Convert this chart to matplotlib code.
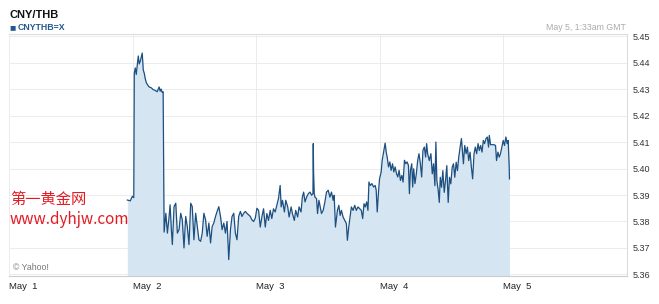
import matplotlib
matplotlib.use("Agg")
import matplotlib.pyplot as plt

# CNY/THB intraday quotes, hours after May 1 00:00 GMT
hours = [
    22.98, 23.56, 23.94, 24.23, 24.33, 24.52, 24.71, 25.10, 25.29, 25.49,
    25.87, 26.07, 26.26, 26.45, 26.65, 26.84, 27.22, 27.61, 28.00, 28.38,
    28.77, 29.15, 29.35, 29.54, 29.73, 29.93, 30.12,
    30.45, 30.76, 31.09, 31.28, 31.53, 31.72, 32.05, 32.38, 32.69, 33.02,
    33.34, 33.65, 33.98, 34.31, 34.62, 34.95, 35.28, 35.58, 35.91, 36.24,
    36.55, 36.88, 37.21, 37.52, 37.84, 38.17, 38.48, 38.81, 39.14, 39.45,
    39.77, 40.10, 40.41, 40.74, 41.07, 41.38, 41.71, 42.03, 42.34, 42.67,
    43.00, 43.31, 43.64, 43.96, 44.27, 44.60, 44.93, 45.24, 45.57, 45.89,
    46.20, 46.53, 46.86, 47.17, 47.50, 47.83, 48.14,
    48.46, 48.79, 49.10, 49.43, 49.76, 50.07, 50.39, 50.72, 51.03, 51.36,
    51.69, 52.00, 52.32, 52.65, 52.85, 53.10, 53.48, 53.74, 54.12, 54.39,
    54.78, 55.03, 55.41, 55.67, 56.05, 56.32, 56.71, 56.96, 57.21, 57.48,
    57.79, 58.12, 58.45, 58.75, 59.02, 59.08, 59.14, 59.27, 59.41, 59.72,
    59.91, 60.18, 60.43, 60.68, 61.01, 61.34, 61.65, 61.98, 62.31, 62.62,
    62.94, 63.14, 63.39, 63.77, 64.04, 64.30, 64.55, 64.87, 65.20, 65.51,
    65.71, 65.97, 66.23, 66.48, 66.81, 67.13, 67.44, 67.77, 68.10, 68.41,
    68.68, 68.93, 69.18, 69.45, 69.70, 69.89, 70.15, 70.47, 70.80, 71.11,
    71.30, 71.50, 71.77, 71.96, 72.27, 72.46, 72.73, 72.93, 73.04, 73.24,
    73.43, 73.70, 73.95, 74.20, 74.47, 74.72, 74.97, 75.24, 75.49, 75.75,
    76.01, 76.27, 76.52, 76.79, 77.04, 77.29, 77.56, 77.75, 77.95, 78.20,
    78.39, 78.58, 78.83, 79.10, 79.36, 79.61, 79.88, 80.13, 80.38, 80.65,
    80.90, 81.09, 81.29,
    81.61, 81.92, 82.19, 82.45, 82.70, 82.89, 83.08, 83.35, 83.55, 83.74,
    83.99, 84.24, 84.51, 84.76, 85.01, 85.28, 85.53, 85.79, 86.06, 86.31,
    86.56, 86.83, 87.08, 87.33, 87.60, 87.85, 88.04, 88.24, 88.49, 88.76,
    89.01, 89.26, 89.53, 89.78, 90.03, 90.30, 90.55, 90.81, 91.08, 91.33,
    91.58, 91.85, 92.10, 92.35, 92.62, 92.87, 93.12, 93.26, 93.51, 94.17,
    94.47, 94.67, 94.94, 95.19, 95.44, 95.71, 95.96, 96.21, 96.48, 96.73,
    96.93, 97.12, 97.18,
]
rate = [
    5.3881, 5.3878, 5.3895, 5.3890, 5.4360, 5.4380, 5.4355, 5.4425, 5.4395, 5.4405,
    5.4436, 5.4372, 5.4360, 5.4340, 5.4325, 5.4318, 5.4308, 5.4305, 5.4298, 5.4295,
    5.4290, 5.4308, 5.4292, 5.4300, 5.4288, 5.4290, 5.3760,
    5.3831, 5.3756, 5.3819, 5.3863, 5.3769, 5.3713, 5.3856, 5.3869, 5.3756, 5.3769,
    5.3831, 5.3806, 5.3700, 5.3819, 5.3781, 5.3713, 5.3869, 5.3856, 5.3731, 5.3831,
    5.3781, 5.3731, 5.3725, 5.3756, 5.3831, 5.3806, 5.3744, 5.3794, 5.3719, 5.3781,
    5.3794, 5.3819, 5.3838, 5.3856, 5.3819, 5.3769, 5.3794, 5.3756, 5.3800, 5.3656,
    5.3769, 5.3819, 5.3831, 5.3756, 5.3731, 5.3819, 5.3838, 5.3819, 5.3831, 5.3838,
    5.3831, 5.3825, 5.3819, 5.3806, 5.3800, 5.3813, 5.3850,
    5.3842, 5.3779, 5.3817, 5.3848, 5.3779, 5.3830, 5.3804, 5.3842, 5.3811, 5.3848,
    5.3836, 5.3861, 5.3886, 5.3936, 5.3855, 5.3880, 5.3836, 5.3880, 5.3855, 5.3817,
    5.3855, 5.3830, 5.3804, 5.3842, 5.3817, 5.3855, 5.3836, 5.3892, 5.3911, 5.3874,
    5.3892, 5.3905, 5.3911, 5.3899, 5.3905, 5.4094, 5.3987, 5.3905, 5.3892, 5.3886,
    5.3830, 5.3880, 5.3855, 5.3830, 5.3842, 5.3874, 5.3911, 5.3918, 5.3892, 5.3911,
    5.3880, 5.3899, 5.3779, 5.3842, 5.3861, 5.3823, 5.3842, 5.3817, 5.3804, 5.3792,
    5.3729, 5.3779, 5.3817, 5.3855, 5.3842, 5.3861, 5.3842, 5.3855, 5.3848, 5.3842,
    5.3811, 5.3867, 5.3855, 5.3874, 5.3842, 5.3949, 5.3936, 5.3943, 5.3930, 5.3936,
    5.3918, 5.3836, 5.3918, 5.3962, 5.3987, 5.4031, 5.4062, 5.4087, 5.4096, 5.4062,
    5.4043, 5.4006, 5.4025, 5.3993, 5.4018, 5.3987, 5.4006, 5.3981, 5.3968, 5.3993,
    5.3955, 5.3974, 5.3949, 5.4031, 5.4018, 5.4025, 5.4012, 5.3905, 5.3993, 5.4018,
    5.3930, 5.3999, 5.3943, 5.3981, 5.4031, 5.4056, 5.4018, 5.3968, 5.4069, 5.4081,
    5.4043, 5.4094, 5.4056,
    5.4030, 5.4056, 5.3980, 5.4018, 5.3935, 5.4100, 5.3954, 5.3916, 5.3872, 5.3967,
    5.3929, 5.3992, 5.3910, 5.3954, 5.4011, 5.3872, 5.3967, 5.3942, 5.4005, 5.4018,
    5.3967, 5.4024, 5.3992, 5.4043, 5.4081, 5.4113, 5.4068, 5.4018, 5.4087, 5.4056,
    5.4081, 5.4030, 5.4062, 5.4005, 5.3961, 5.4056, 5.4081, 5.4056, 5.4094, 5.4068,
    5.4087, 5.4062, 5.4106, 5.4094, 5.4113, 5.4119, 5.4081, 5.4125, 5.4090, 5.4090,
    5.4087, 5.4030, 5.4062, 5.4043, 5.4056, 5.4081, 5.4106, 5.4087, 5.4119, 5.4094,
    5.4106, 5.4011, 5.3961,
]

day_ticks = [0, 24, 48, 72, 96]
day_labels = ["May  1", "May  2", "May  3", "May  4", "May  5"]
rate_ticks = [5.36, 5.37, 5.38, 5.39, 5.40, 5.41, 5.42, 5.43, 5.44, 5.45]

plt.rcParams["font.family"] = ["Liberation Sans", "DejaVu Sans"]

W, H = 659, 304
fig = plt.figure(figsize=(W / 100, H / 100), dpi=100)
ax = fig.add_axes([9 / W, 1 - 275.5 / H, (627 - 9) / W, (275.5 - 34) / H])

ymin, ymax = 5.3596, 5.4508
ax.fill_between(hours, rate, ymin, color="#d5e5f1", lw=0)
ax.plot(hours, rate, color="#1d4f80", lw=0.9)

ax.set_xlim(0, 120)
ax.set_ylim(ymin, ymax)
ax.set_xticks(day_ticks)
ax.set_xticklabels(day_labels, ha="left")
ax.set_yticks(rate_ticks)
ax.set_yticklabels(["%.2f" % v for v in rate_ticks])
ax.yaxis.tick_right()
ax.tick_params(axis="y", length=0, pad=4, labelsize=6.5, labelcolor="#333333")
ax.tick_params(axis="x", length=0, pad=5, labelsize=6.8, labelcolor="#222222")

ax.grid(True, color="#ececec", lw=0.7)
ax.set_axisbelow(True)
for side in ["top", "right"]:
    ax.spines[side].set_color("#dddddd")
    ax.spines[side].set_linewidth(0.8)
ax.spines["bottom"].set_color("#cccccc")
ax.spines["bottom"].set_linewidth(0.8)
ax.spines["left"].set_visible(False)

def px(x, y):
    return x / W, 1 - y / H

fig.text(*px(10, 15), "CNY/THB", fontsize=8, fontweight="bold", color="#111111", va="center")
fig.text(*px(9, 27), "\u25a0", fontsize=7.5, color="#24588e", va="center")
fig.text(*px(18, 27), "CNYTHB=X", fontsize=6.3, fontweight="bold", color="#24588e", va="center")
fig.text(*px(626, 27), "May 5, 1:33am GMT", fontsize=6.3, color="#aaaaaa", va="center", ha="right")

fig.text(*px(10, 199), "第一黄金网", fontsize=11, color="#e31b23", va="center",
         family=["Noto Sans CJK SC", "DejaVu Sans"])
fig.text(*px(10, 219), "www.dyhjw.com", fontsize=11, color="#e31b23", va="center",
         family=["Noto Sans CJK SC", "DejaVu Sans"])
fig.text(*px(13, 267), "© Yahoo!", fontsize=6.3, color="#777777", va="center")

fig.savefig("out.png", dpi=100)
